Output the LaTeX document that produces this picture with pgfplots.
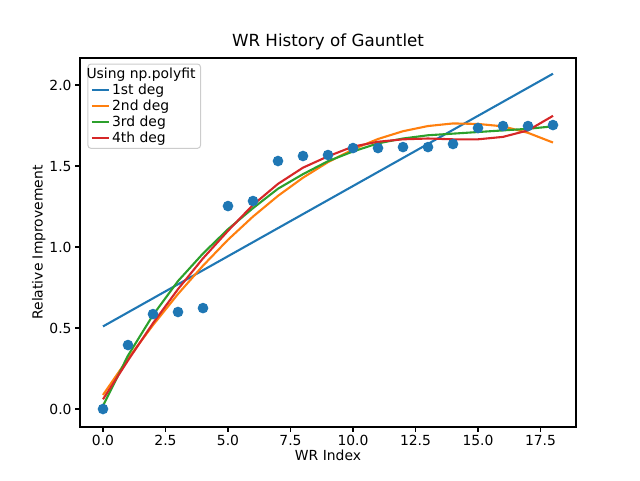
\documentclass[border=0pt]{standalone}
\usepackage{pgfplots}
\pgfplotsset{compat=1.18}
\usepackage{fontspec}
\setmainfont{DejaVu Sans}
\definecolor{c0}{HTML}{1F77B4}
\definecolor{c1}{HTML}{FF7F0E}
\definecolor{c2}{HTML}{2CA02C}
\definecolor{c3}{HTML}{D62728}
\newcommand{\mf}{\fontsize{13.9}{16}\selectfont}
\newcommand{\tf}{\fontsize{16.7}{19}\selectfont}
\begin{document}
\begin{tikzpicture}
\useasboundingbox (-80pt,-53pt) rectangle (560pt,427pt);
\begin{axis}[at={(0,0)},anchor=south west,
scale only axis, width=496pt, height=369pt,
xmin=-0.92, xmax=18.92, ymin=-0.111, ymax=2.167,
xtick={0,2.5,...,17.5}, ytick={0,0.5,...,2.0},
xtick pos=bottom, ytick pos=left,
xticklabel style={/pgf/number format/.cd,fixed,fixed zerofill,precision=1},
yticklabel style={/pgf/number format/.cd,fixed,fixed zerofill,precision=1},
/pgf/number format/assume math mode=true,
tick label style={font=\mf}, label style={font=\mf},
tick align=outside, tick style={black, line width=1.1pt}, major tick length=4.9pt,
axis line style={line width=1.1pt},
title={WR History of Gauntlet}, title style={font=\tf, yshift=-2pt},
xlabel={WR Index}, ylabel={Relative Improvement},
xlabel style={yshift=3pt}, ylabel style={yshift=-3pt},
legend pos=north west, legend cell align=left,
legend style={font=\mf, draw=black!20, rounded corners=3pt, line width=1pt, at={(0.015,0.985)}},
every axis plot/.append style={line width=2.1pt},
]
\addlegendimage{empty legend}
\addlegendentry{\hspace{-0.9cm}Using np.polyfit}
\addplot[c0] coordinates {(0,0.51) (18,2.07)};
\addlegendentry{1st deg}
\addplot[c1] coordinates {(0,0.087)(1,0.311)(2,0.518)(3,0.710)(4,0.885)(5,1.045)(6,1.188)(7,1.316)(8,1.428)(9,1.524)(10,1.603)(11,1.667)(12,1.715)(13,1.747)(14,1.763)(15,1.760)(16,1.745)(17,1.705)(18,1.645)};
\addlegendentry{2nd deg}
\addplot[c2] coordinates {(0,0.02)(1,0.33)(2,0.58)(3,0.79)(4,0.96)(5,1.11)(6,1.24)(7,1.36)(8,1.45)(9,1.53)(10,1.59)(11,1.64)(12,1.67)(13,1.69)(14,1.70)(15,1.71)(16,1.72)(17,1.73)(18,1.745)};
\addlegendentry{3rd deg}
\addplot[c3] coordinates {(0,0.06)(1,0.30)(2,0.53)(3,0.74)(4,0.93)(5,1.10)(6,1.26)(7,1.39)(8,1.49)(9,1.56)(10,1.62)(11,1.65)(12,1.665)(13,1.67)(14,1.665)(15,1.665)(16,1.68)(17,1.72)(18,1.81)};
\addlegendentry{4th deg}
\addplot[only marks, mark=*, mark size=4.2pt, c0, forget plot] coordinates {(0,0.0)(1,0.395)(2,0.586)(3,0.599)(4,0.623)(5,1.253)(6,1.284)(7,1.531)(8,1.562)(9,1.568)(10,1.611)(11,1.611)(12,1.617)(13,1.617)(14,1.636)(15,1.735)(16,1.747)(17,1.747)(18,1.753)};
\end{axis}
\end{tikzpicture}
\end{document}
